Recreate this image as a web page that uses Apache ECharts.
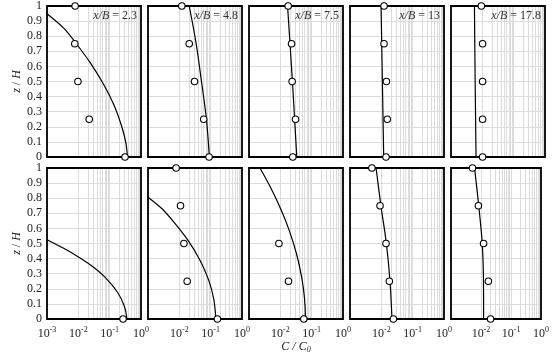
<!DOCTYPE html>
<html>
<head>
<meta charset="utf-8">
<script src="https://cdn.jsdelivr.net/npm/echarts@6/dist/echarts.min.js"></script>
<style>
  html, body { margin: 0; padding: 0; background: #fff; }
  #chart { width: 552px; height: 356px; }
</style>
</head>
<body>
<div id="chart"></div>
<script>
// heights where C/C0 was measured
const zLevels = [0, 0.25, 0.5, 0.75, 1];
// one panel per downstream distance
const xbLabels = ['2.3', '4.8', '7.5', '13', '17.8'];

// measured C/C0 (top row), z/H = 0 .. 1
const measTop = [
  [0.309, 0.0222, 0.0097, 0.0077, 0.0079],
  [0.089, 0.060, 0.0305, 0.0207, 0.012],
  [0.025, 0.0305, 0.0238, 0.0228, 0.0178],
  [0.0141, 0.0155, 0.0145, 0.0122, 0.0122],
  [0.0102, 0.0102, 0.0102, 0.0102, 0.0093],
];
// measured C/C0 (bottom row), null = below 10^-3
const measBottom = [
  [0.267, null, null, null, null],
  [0.164, 0.0178, 0.0140, 0.0109, 0.0079],
  [0.0562, 0.0182, 0.0090, null, null],
  [0.0242, 0.0180, 0.0141, 0.0091, 0.0050],
  [0.0209, 0.0176, 0.0122, 0.0082, 0.0052],
];

// fitted profiles, [C/C0, z/H]
const fitTop = [
  [[0.001, 0.949], [0.00355, 0.85], [0.00942, 0.74], [0.0251, 0.618], [0.0665, 0.475],
   [0.138, 0.342], [0.236, 0.21], [0.326, 0.099], [0.366, 0.011], [0.367, 0]],
  [[0.0207, 1], [0.0345, 0.75], [0.0509, 0.5], [0.0733, 0.25], [0.091, 0]],
  [[0.017, 1], [0.0243, 0.5], [0.0335, 0]],
  [[0.0098, 1], [0.0108, 0.5], [0.0119, 0]],
  [[0.0056, 1], [0.0059, 0.5], [0.0063, 0]],
];
const fitBottom = [
  [[0.001, 0.525], [0.0034, 0.468], [0.0087, 0.419], [0.0265, 0.353], [0.072, 0.276],
   [0.178, 0.177], [0.29, 0.088], [0.351, 0.011], [0.352, 0]],
  [[0.001, 0.806], [0.00279, 0.73], [0.0068, 0.64], [0.0192, 0.519], [0.0465, 0.386],
   [0.0875, 0.254], [0.125, 0.134], [0.1456, 0.011], [0.146, 0]],
  [[0.00224, 1], [0.00485, 0.872], [0.0108, 0.719], [0.0192, 0.587], [0.0328, 0.432],
   [0.048, 0.276], [0.0587, 0.144], [0.0631, 0.011], [0.0631, 0]],
  [[0.0068, 1], [0.0097, 0.75], [0.0145, 0.5], [0.0189, 0.25], [0.0219, 0]],
  [[0.0061, 1], [0.0084, 0.75], [0.0110, 0.5], [0.0121, 0.25], [0.0122, 0]],
];

const FONT = 'Liberation Serif';
const GRID_COLOR = '#dcdcdc';
const panelLeft = [47, 148, 249, 350, 451];
const panelTop = [6, 168];
const panelW = 94;
const panelH = 151;

// minor log gridlines 2..9 x 10^k
const minorLines = [];
[0.001, 0.01, 0.1].forEach(function (d) {
  for (let m = 2; m <= 9; m++) minorLines.push({ xAxis: +(m * d).toPrecision(3) });
});

const myChart = echarts.init(document.getElementById('chart'));

const grid = [];
const xAxis = [];
const yAxis = [];
const series = [];
const title = [];

[measTop, measBottom].forEach(function (meas, row) {
  const fits = row === 0 ? fitTop : fitBottom;
  for (let col = 0; col < 5; col++) {
    const idx = row * 5 + col;
    grid.push({
      show: true,
      left: panelLeft[col],
      top: panelTop[row],
      width: panelW,
      height: panelH,
      borderColor: '#000',
      borderWidth: 1.8,
      backgroundColor: 'transparent',
      z: 3,
    });
    xAxis.push({
      type: 'log',
      logBase: 10,
      min: 0.001,
      max: 1,
      gridIndex: idx,
      axisLine: { show: false },
      axisTick: { show: false },
      splitLine: { show: true, lineStyle: { color: GRID_COLOR, width: 1 } },
      name: row === 1 && col === 2 ? '{i|C / C}{s|0}' : '',
      nameLocation: 'middle',
      nameGap: 19,
      nameTextStyle: {
        fontFamily: FONT,
        fontSize: 12,
        color: '#222',
        rich: {
          i: { fontFamily: FONT, fontSize: 12, fontStyle: 'italic', color: '#222' },
          s: { fontFamily: FONT, fontSize: 8, fontStyle: 'italic', color: '#222', verticalAlign: 'bottom', padding: [6, 0, 0, 0] },
        },
      },
      axisLabel: {
        show: row === 1,
        margin: 7,
        fontFamily: FONT,
        fontSize: 12,
        color: '#222',
        formatter: function (v) {
          const e = Math.round(Math.log10(v));
          if (col > 0 && e === -3) return '';
          return '10{s|' + e + '}';
        },
        rich: {
          s: { fontFamily: FONT, fontSize: 8, color: '#222', padding: [0, 0, 8, 0] },
        },
      },
    });
    yAxis.push({
      type: 'value',
      min: 0,
      max: 1,
      interval: 0.1,
      gridIndex: idx,
      axisLine: { show: false },
      axisTick: { show: false },
      splitLine: { show: true, lineStyle: { color: GRID_COLOR, width: 1 } },
      name: col === 0 ? '{i|z} / {i|H}' : '',
      nameLocation: 'middle',
      nameRotate: 90,
      nameGap: 20,
      nameTextStyle: {
        fontFamily: FONT,
        fontSize: 12,
        color: '#222',
        rich: { i: { fontFamily: FONT, fontSize: 12, fontStyle: 'italic', color: '#222' } },
      },
      axisLabel: {
        show: col === 0,
        margin: 5,
        fontFamily: FONT,
        fontSize: 12,
        color: '#222',
      },
    });

    // light vertical minor gridlines
    series.push({
      type: 'line',
      xAxisIndex: idx,
      yAxisIndex: idx,
      data: [],
      silent: true,
      markLine: {
        silent: true,
        symbol: 'none',
        z: 1,
        animation: false,
        label: { show: false },
        lineStyle: { color: GRID_COLOR, width: 1, type: 'solid' },
        data: minorLines,
      },
    });

    // fitted curve
    series.push({
      type: 'line',
      xAxisIndex: idx,
      yAxisIndex: idx,
      data: fits[col],
      showSymbol: false,
      smooth: 0.3,
      clip: true,
      z: 4,
      lineStyle: { color: '#000', width: 1.2 },
    });

    // measurements
    const pts = [];
    meas[col].forEach(function (c, k) {
      if (c !== null) pts.push([c, zLevels[k]]);
    });
    series.push({
      type: 'scatter',
      xAxisIndex: idx,
      yAxisIndex: idx,
      data: pts,
      symbol: 'circle',
      symbolSize: 6.5,
      clip: false,
      z: 5,
      itemStyle: { color: '#fff', borderColor: '#000', borderWidth: 1.1, opacity: 1 },
    });

    if (row === 0) {
      title.push({
        text: '{i|x/B} = ' + xbLabels[col],
        right: 552 - (panelLeft[col] + panelW) + 4,
        top: 10,
        padding: 0,
        textStyle: {
          fontFamily: FONT,
          fontSize: 12,
          fontWeight: 'normal',
          color: '#333',
          rich: { i: { fontFamily: FONT, fontSize: 12, fontStyle: 'italic', color: '#333' } },
        },
      });
    }
  }
});

myChart.setOption({
  animation: false,
  backgroundColor: '#fff',
  title: title,
  grid: grid,
  xAxis: xAxis,
  yAxis: yAxis,
  series: series,
});
</script>
</body>
</html>
